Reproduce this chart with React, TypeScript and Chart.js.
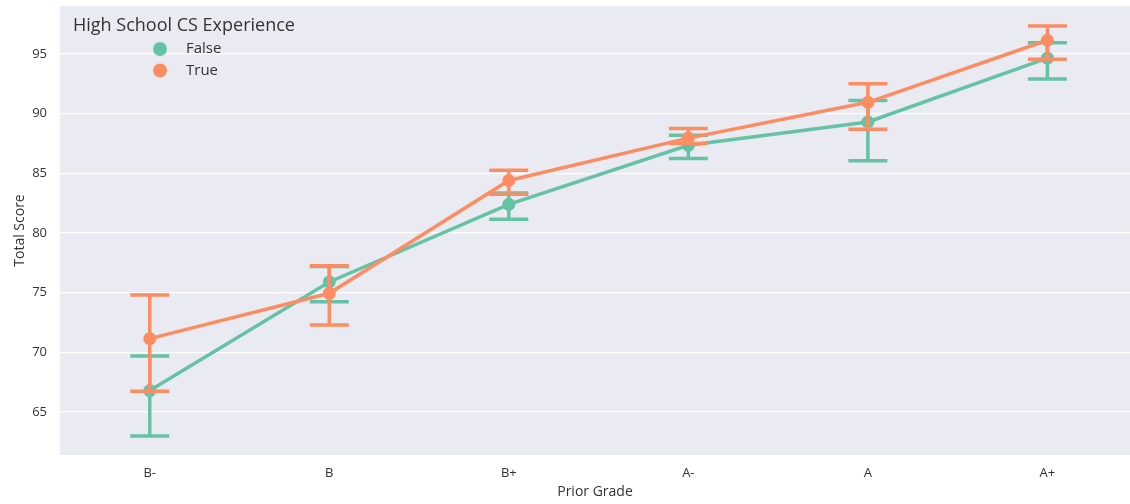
import React, { useEffect, useRef } from "react";
import { Chart, registerables } from "chart.js";

Chart.register(...registerables);

const categories = ["B-", "B", "B+", "A-", "A", "A+"];
const yTicks = [65, 70, 75, 80, 85, 90, 95];

const falseMean = [66.8, 75.9, 82.4, 87.35, 89.3, 94.65];
const falseLow = [63.0, 74.25, 81.15, 86.25, 86.05, 92.9];
const falseHigh = [69.7, 77.2, 83.35, 88.2, 91.1, 95.95];

const trueMean = [71.15, 74.95, 84.4, 87.95, 90.95, 96.15];
const trueLow = [66.75, 72.3, 83.25, 87.5, 88.7, 94.55];
const trueHigh = [74.8, 77.25, 85.25, 88.75, 92.5, 97.35];

const GREEN = "#66c2a5";
const ORANGE = "#fc8d62";
const TEXT = "#333333";
const FONT = "'Open Sans', 'DejaVu Sans', sans-serif";

const bgPlugin = {
  id: "bgPlugin",
  beforeDraw(chart: any) {
    const { ctx, chartArea } = chart;
    ctx.save();
    ctx.fillStyle = "#eaeaf2";
    ctx.fillRect(chartArea.left, chartArea.top, chartArea.right - chartArea.left, chartArea.bottom - chartArea.top);
    ctx.restore();
  },
};

const errorBarPlugin = {
  id: "errorBarPlugin",
  beforeDatasetDraw(chart: any, args: any) {
    const ds: any = chart.data.datasets[args.index];
    if (!ds.low) return;
    const { ctx, scales } = chart;
    const xs = scales.x;
    const ys = scales.y;
    ctx.save();
    ctx.strokeStyle = ds.borderColor;
    ctx.lineWidth = 3.5;
    ctx.lineCap = "butt";
    const half = 19.5;
    ds.data.forEach((p: any, i: number) => {
      const x = xs.getPixelForValue(p.x);
      const yl = ys.getPixelForValue(ds.low[i]);
      const yh = ys.getPixelForValue(ds.high[i]);
      ctx.beginPath();
      ctx.moveTo(x, yl);
      ctx.lineTo(x, yh);
      ctx.moveTo(x - half, yl);
      ctx.lineTo(x + half, yl);
      ctx.moveTo(x - half, yh);
      ctx.lineTo(x + half, yh);
      ctx.stroke();
    });
    ctx.restore();
  },
};

const legendPlugin = {
  id: "legendPlugin",
  afterDraw(chart: any) {
    const { ctx, chartArea } = chart;
    const left = chartArea.left;
    const top = chartArea.top;
    ctx.save();
    ctx.fillStyle = TEXT;
    ctx.textBaseline = "middle";
    ctx.textAlign = "left";
    ctx.font = `18px ${FONT}`;
    ctx.fillText("High School CS Experience", left + 13, top + 20);
    const entries = [chart.data.datasets[1], chart.data.datasets[0]];
    entries.forEach((ds: any, i: number) => {
      const cy = top + 43 + i * 21.5;
      ctx.beginPath();
      ctx.fillStyle = ds.backgroundColor;
      ctx.arc(left + 100, cy, 7, 0, Math.PI * 2);
      ctx.fill();
      ctx.fillStyle = TEXT;
      ctx.font = `15px ${FONT}`;
      ctx.fillText(ds.label, left + 126, cy);
    });
    ctx.restore();
  },
};

export default function App() {
  const ref = useRef<HTMLCanvasElement>(null);
  useEffect(() => {
    if (!ref.current) return;
    const chart = new Chart(ref.current, {
      type: "line",
      data: {
        datasets: [
          {
            label: "True",
            data: trueMean.map((v, i) => ({ x: i, y: v })),
            low: trueLow,
            high: trueHigh,
            borderColor: ORANGE,
            backgroundColor: ORANGE,
            borderWidth: 3.5,
            pointRadius: 6.5,
            pointBorderWidth: 0,
            pointBackgroundColor: ORANGE,
            tension: 0,
            order: 0,
          } as any,
          {
            label: "False",
            data: falseMean.map((v, i) => ({ x: i, y: v })),
            low: falseLow,
            high: falseHigh,
            borderColor: GREEN,
            backgroundColor: GREEN,
            borderWidth: 3.5,
            pointRadius: 6.5,
            pointBorderWidth: 0,
            pointBackgroundColor: GREEN,
            tension: 0,
            order: 1,
          } as any,
        ],
      },
      options: {
        animation: false,
        responsive: false,
        maintainAspectRatio: false,
        layout: { autoPadding: false, padding: { top: 6, right: 0, left: 0, bottom: 0 } },
        plugins: {
          legend: { display: false },
          tooltip: { enabled: false },
        },
        scales: {
          x: {
            type: "linear",
            min: -0.5,
            max: 5.46,
            grid: { display: false },
            border: { display: false },
            afterBuildTicks(scale: any) {
              scale.ticks = categories.map((_, i) => ({ value: i }));
            },
            afterFit(scale: any) {
              scale.height = 49;
              scale.paddingLeft = 0;
              scale.paddingRight = 0;
            },
            ticks: {
              color: TEXT,
              font: { family: FONT, size: 13 },
              padding: 2,
              maxRotation: 0,
              autoSkip: false,
              callback: (v: any) => categories[Math.round(Number(v))] ?? "",
            },
            title: {
              display: true,
              text: "Prior Grade",
              color: TEXT,
              font: { family: FONT, size: 14 },
              padding: { top: 0, bottom: 4 },
            },
          },
          y: {
            type: "linear",
            min: 61.4,
            max: 99.02,
            grid: { color: "#ffffff", lineWidth: 1.2, drawTicks: false },
            border: { display: false },
            afterBuildTicks(scale: any) {
              scale.ticks = yTicks.map((v) => ({ value: v }));
            },
            afterFit(scale: any) {
              scale.width = 60;
              scale.paddingTop = 0;
              scale.paddingBottom = 0;
            },
            ticks: {
              color: TEXT,
              font: { family: FONT, size: 13 },
              padding: 13,
            },
            title: {
              display: true,
              text: "Total Score",
              color: TEXT,
              font: { family: FONT, size: 14 },
              padding: { top: 12, bottom: 4 },
            },
          },
        },
      },
      plugins: [bgPlugin, errorBarPlugin, legendPlugin],
    } as any);
    return () => chart.destroy();
  }, []);
  return (
    <div style={{ position: "fixed", left: 0, top: 0, width: 1130, height: 504, background: "#fff" }}>
      <canvas ref={ref} width={1130} height={504} style={{ display: "block" }} />
    </div>
  );
}
